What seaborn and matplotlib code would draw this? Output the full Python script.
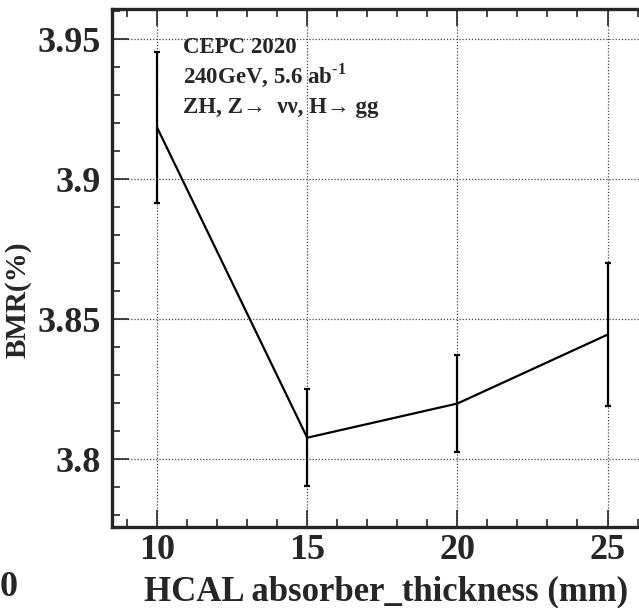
import seaborn as sns
import matplotlib.pyplot as plt
import pandas as pd

# data
thickness = [10, 15, 20, 25]
bmr = [3.9185, 3.8077, 3.8199, 3.8445]
bmr_err = [0.0269, 0.0173, 0.0172, 0.0255]
x_ticks = [10, 15, 20, 25]
y_ticks = [3.8, 3.85, 3.9, 3.95]
y_tick_labels = ["3.8", "3.85", "3.9", "3.95"]

df = pd.DataFrame({"thickness": thickness, "bmr": bmr})

sns.set_style("ticks")
plt.rcParams['font.family'] = ['Liberation Serif', 'DejaVu Serif']
plt.rcParams['font.weight'] = 'bold'
plt.rcParams['mathtext.fontset'] = 'custom'
plt.rcParams['mathtext.rm'] = 'Liberation Serif:bold'
plt.rcParams['mathtext.bf'] = 'Liberation Serif:bold'

fig = plt.figure(figsize=(6.39, 6.08), dpi=100)
ax = fig.add_axes([0.1753, 0.1327, 0.8459, 0.8525])

sns.lineplot(data=df, x="thickness", y="bmr", color="black", linewidth=1.6, ax=ax)
ax.errorbar(thickness, bmr, yerr=bmr_err, fmt="none", ecolor="black",
            elinewidth=1.6, capsize=2, capthick=1.6)

ax.set_xlim(8.5, 26.5)
ax.set_ylim(3.7757, 3.9608)
ax.set_xticks(x_ticks)
ax.set_xticks(range(9, 27), minor=True)
ax.set_yticks(y_ticks)
ax.set_yticklabels(y_tick_labels)
ax.set_yticks([3.78 + 0.01 * i for i in range(19)], minor=True)

ax.grid(True, which="major", linestyle=(0, (1, 1.5)), color="#444444", linewidth=0.9)
ax.tick_params(which="major", direction="in", length=12, width=1.2, top=True, labelsize=26)
ax.tick_params(axis="x", which="major", pad=5)
ax.tick_params(axis="y", which="major", pad=8)
ax.tick_params(which="minor", direction="in", length=6, width=1.2, top=True)
for s in ax.spines.values():
    s.set_linewidth(2.4)

ax.set_xlabel("HCAL absorber_thickness (mm)", fontsize=25, fontweight="bold")
ax.set_ylabel("BMR(%)", fontsize=21, fontweight="bold")
ax.xaxis.set_label_coords(0.507, -0.092)
ax.yaxis.set_label_coords(-0.148, 0.44)

ax.text(10.86, 3.9451, "CEPC 2020", fontsize=16.5, fontweight="bold", va="baseline")
ax.text(10.86, 3.9344, r"240GeV, 5.6 ab$^{\text{-1}}$", fontsize=16.5, fontweight="bold", va="baseline")
ax.text(10.86, 3.9237, "ZH, Z\u2192  \u03bd\u03bd, H\u2192 gg",
        fontsize=16.5, fontweight="bold", va="baseline")

fig.text(0.0, 0.02, "0", fontsize=26, fontweight="bold")

plt.savefig("out.png", dpi=100)
